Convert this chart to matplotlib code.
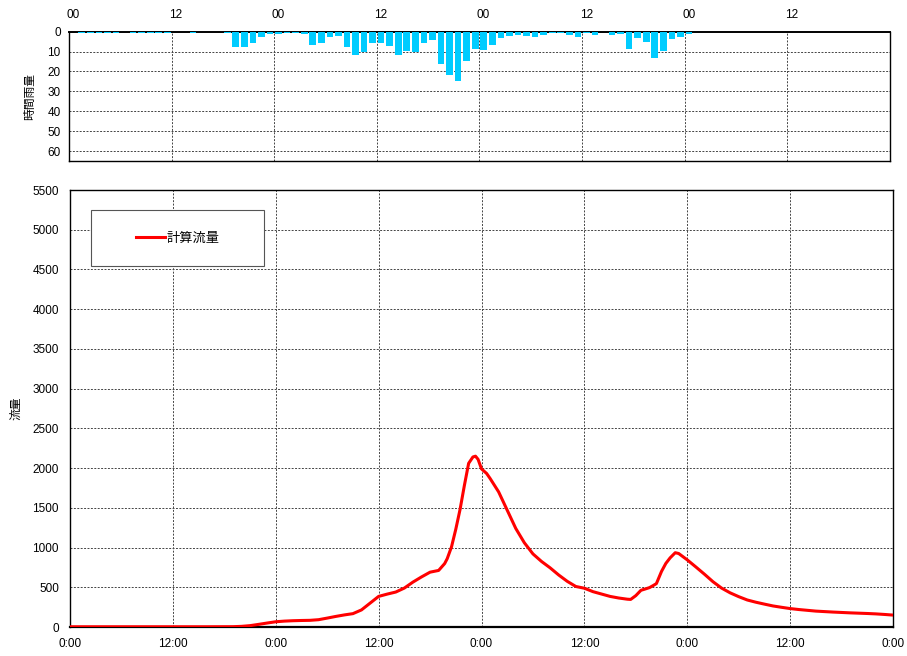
import numpy as np
import matplotlib
matplotlib.use("Agg")
import matplotlib.pyplot as plt
from matplotlib.patches import Rectangle
from matplotlib.transforms import ScaledTranslation

plt.rcParams['font.family'] = ['Liberation Sans', 'Noto Sans CJK JP', 'DejaVu Sans']

# hourly rainfall (mm), hour 0 .. 95
rain = [0, 0.5, 0.5, 0.5, 0.5, 0.5, 0, 0.5, 0.5, 0.5, 0.5, 0.5,
        0, 0, 0.5, 0, 0, 0, 0.5, 7.5, 7.5, 5.8, 2.7, 1.0,
        1.4, 0.9, 0.8, 1.0, 6.5, 5.7, 2.7, 2.3, 7.8, 11.7, 10.0, 5.7,
        5.7, 7.2, 11.7, 9.7, 10.0, 5.8, 4.3, 16.0, 22.0, 24.7, 14.7, 8.5,
        9.1, 6.5, 3.4, 2.1, 1.8, 2.2, 2.5, 1.5, 0.5, 0.5, 1.6, 2.6,
        0.5, 1.6, 0.4, 1.8, 1.1, 8.6, 3.2, 5.0, 13.3, 9.5, 3.8, 2.5,
        1.3, 0, 0, 0, 0, 0, 0, 0, 0, 0, 0, 0,
        0, 0, 0, 0, 0, 0, 0, 0, 0, 0, 0, 0]
rain_hours = np.arange(len(rain))

# computed discharge (計算流量), sampled at these hours
flow_hours = [0, 4, 8, 12, 16, 19, 20, 21, 22, 23, 24, 25, 26, 27, 28, 29, 30,
              31, 32, 33, 34, 35, 36, 37, 38, 39, 40, 41, 42, 43, 43.7, 44,
              44.5, 45, 45.5, 46, 46.5, 47, 47.3, 47.6, 48, 48.6, 49, 50, 51,
              52, 53, 54, 55, 56, 57, 58, 59, 60, 61, 62, 63, 64, 65, 65.4,
              66, 66.6, 67, 67.6, 68, 68.4, 69, 69.5, 70, 70.6, 71, 72, 73,
              74, 75, 76, 77, 78, 79, 80, 81, 82, 83, 84, 85, 86, 87, 88, 89,
              90, 91, 92, 93, 94, 95, 96]
flow = [3, 3, 3, 3, 3, 4, 8, 17, 33, 50, 66, 74, 79, 82, 84, 92, 112,
        133, 152, 168, 215, 300, 385, 414, 440, 490, 565, 630, 690, 712, 798, 860,
        1008, 1230, 1480, 1780, 2060, 2140, 2150, 2110, 1990, 1932, 1870, 1700, 1470,
        1240, 1060, 920, 825, 745, 655, 575, 510, 488, 445, 415, 385, 365, 350, 347,
        395, 462, 475, 496, 520, 546, 700, 800, 870, 935, 925, 845, 756,
        665, 570, 490, 430, 382, 340, 312, 288, 265, 248, 232, 220, 210, 200, 194, 188,
        183, 178, 174, 170, 165, 158, 150]

top_labels = ['00', '12'] * 4
bottom_labels = ['0:00', '12:00'] * 4 + ['0:00']

fig = plt.figure(figsize=(9.07, 6.56), dpi=100)
W, H = 907, 656

grid_kw = dict(color='#444444', linestyle=(0, (2, 1.5)), linewidth=0.7)

# ---- rainfall panel ----
ax1 = fig.add_axes([69 / W, 1 - 161 / H, 821 / W, 129.3 / H])
ax1.bar(rain_hours + 0.5, rain, width=0.78, color='#00CCFF', linewidth=0, zorder=3)
ax1.set_xlim(0, 96)
ax1.set_ylim(65, 0)
ax1.set_yticks(np.arange(0, 61, 10))
ax1.set_xticks(np.arange(0, 96, 12))
ax1.set_xticklabels(top_labels)
ax1.xaxis.tick_top()
ax1.tick_params(axis='both', length=0, labelsize=8.5, pad=6)
ax1.tick_params(axis='x', pad=8)
# the hour labels sit a little right of their gridlines
shift = ScaledTranslation(4 / 100, 0, fig.dpi_scale_trans)
for lab in ax1.get_xticklabels():
    lab.set_transform(lab.get_transform() + shift)
for y in range(10, 61, 10):
    ax1.axhline(y, zorder=1, **grid_kw)
for x in range(12, 96, 12):
    ax1.axvline(x, zorder=1, **grid_kw)
ax1.set_ylabel('時間雨量', fontsize=8.5)
ax1.yaxis.set_label_coords(-0.04, 0.5)
for s in ax1.spines.values():
    s.set_linewidth(1.0)
ax1.spines['top'].set_linewidth(1.4)

# ---- discharge panel ----
ax2 = fig.add_axes([70 / W, 1 - 627 / H, 823 / W, 437 / H])
ax2.plot(flow_hours, flow, color='#FF0000', linewidth=2.2, label='計算流量', zorder=4)
ax2.set_xlim(0, 96)
ax2.set_ylim(0, 5500)
ax2.set_yticks(np.arange(0, 5501, 500))
ax2.set_xticks(np.arange(0, 97, 12))
ax2.set_xticklabels(bottom_labels)
ax2.tick_params(axis='both', length=0, labelsize=8.5, pad=8)
for y in range(500, 5500, 500):
    ax2.axhline(y, zorder=1, **grid_kw)
for x in range(12, 96, 12):
    ax2.axvline(x, zorder=1, **grid_kw)
ax2.set_ylabel('流量', fontsize=8.5)
ax2.yaxis.set_label_coords(-0.058, 0.5)
for s in ax2.spines.values():
    s.set_linewidth(1.0)
ax2.spines['bottom'].set_linewidth(1.6)

# legend box
ax2.add_patch(Rectangle((0.0259, 0.8254), 0.2102, 0.1281, transform=ax2.transAxes,
                        facecolor='white', edgecolor='#555555', linewidth=0.8, zorder=5))
leg = ax2.legend(loc='center', bbox_to_anchor=(0.131, 0.889), frameon=False,
                 fontsize=9.5, handlelength=2.2, handletextpad=0.15)
leg.set_zorder(6)

fig.savefig('out.png', dpi=100)
